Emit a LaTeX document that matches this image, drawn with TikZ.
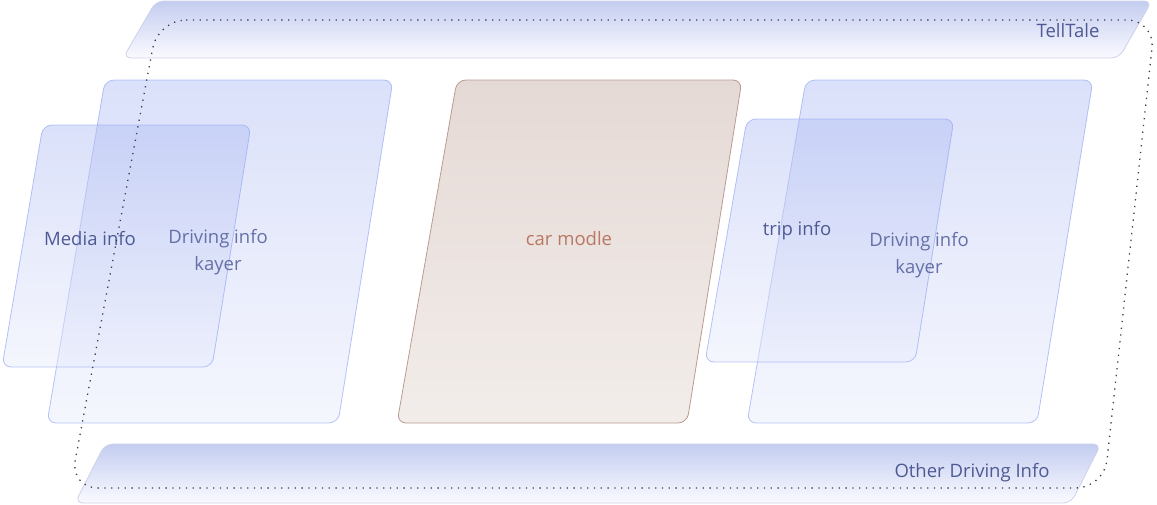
\documentclass[tikz,border=0pt]{standalone}
\usepackage{fontspec}
\setmainfont{Open Sans}
\definecolor{BarTop}{RGB}{196,205,240}
\definecolor{BarBot}{RGB}{250,250,255}
\definecolor{BarLine}{RGB}{205,210,235}
\definecolor{PanelTop}{RGB}{174,188,243}
\definecolor{PanelBot}{RGB}{232,235,251}
\definecolor{PanelLine}{RGB}{150,170,245}
\definecolor{CarTop}{RGB}{229,217,213}
\definecolor{CarBot}{RGB}{242,237,234}
\definecolor{CarLine}{RGB}{185,155,145}
\definecolor{CarText}{RGB}{185,120,100}
\definecolor{LabelBlue}{RGB}{78,90,148}
\definecolor{LabelSoft}{RGB}{100,112,166}
\definecolor{FrameGrey}{RGB}{60,62,80}
\usepackage{tikz}
\usetikzlibrary{positioning}

\begin{document}
\begin{tikzpicture}[x=1pt, y=-1pt, font=\fontsize{18.5}{27}\selectfont,
	bar/.style={draw=BarLine, line width=0.8pt, rounded corners=8pt,
		top color=BarTop, bottom color=BarBot},
	panel/.style={draw=PanelLine, draw opacity=0.7, line width=0.8pt,
		rounded corners=9pt, top color=PanelTop, bottom color=PanelBot,
		fill opacity=0.45},
	carpanel/.style={draw=CarLine, line width=0.8pt, rounded corners=9pt,
		top color=CarTop, bottom color=CarBot},
	lbl/.style={text=LabelBlue, inner sep=0pt, align=center},
	soft/.style={lbl, text=LabelSoft}]

	\useasboundingbox (0,0) rectangle (1157,504);

	% top and bottom bars
	\draw[bar] (156,1) -- (1152,1) -- (1119,58) -- (123,58) -- cycle;
	\draw[bar] (105,444) -- (1101,444) -- (1071,503) -- (75,503) -- cycle;

	% layer panels (top left, top right, bottom right, bottom left)
	\foreach \xa/\xb/\ya/\xc/\xd/\yb in {105/393/80/338/47/423,
	                                    43/251/125/212/2/367,
	                                    806/1093/80/1037/747/423,
	                                    747/954/119/915/705/362}{
		\draw[panel] (\xa,\ya) -- (\xb,\ya) -- (\xc,\yb) -- (\xd,\yb) -- cycle;
	}
	\draw[carpanel] (457,80) -- (742,80) -- (687,423) -- (397,423) -- cycle;

	% labels
	\node[lbl] (tell) at (1068,31) {TellTale};
	\node[lbl] (other) at (972,473) {Other Driving Info};
	\node[lbl] (media) at (90,239) {Media info};
	\node[soft] (drvL) at (218,252) {Driving info\\kayer};
	\node[lbl, text=CarText] (car) at (569,239) {car modle};
	\node[lbl] (trip) at (797,231) {trip info};
	\node[soft] (drvR) at (919,255) {Driving info\\kayer};

	% dotted frame round the cluster
	\draw[FrameGrey, line width=1.3pt, dash pattern=on 1.3pt off 5.5pt,
		rounded corners=28pt]
		(158,20) -- (1155,20) -- (1104,488) -- (70,488) -- cycle;
\end{tikzpicture}
\end{document}
